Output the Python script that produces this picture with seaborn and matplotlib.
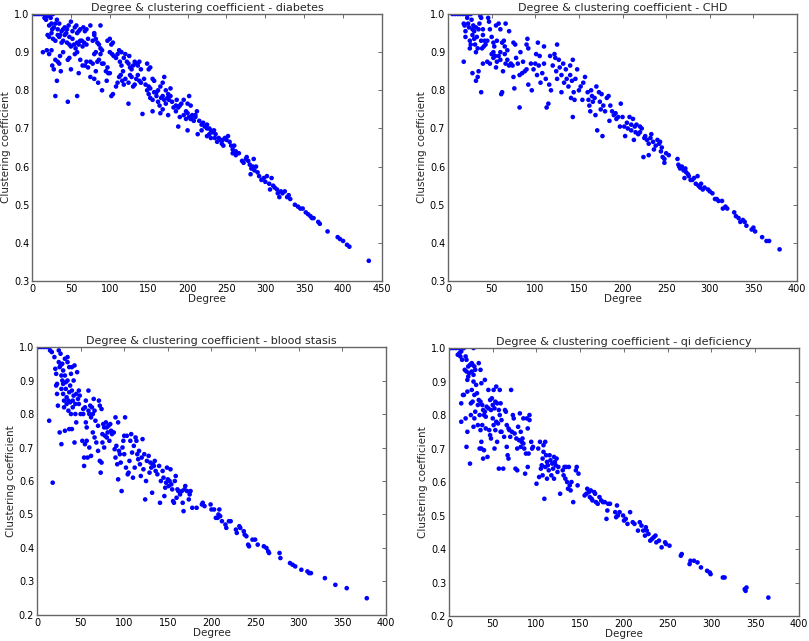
import numpy as np
import pandas as pd
import matplotlib
matplotlib.use("Agg")
import matplotlib.pyplot as plt
import seaborn as sns

# pontos (grau, coeficiente de clustering)
diabetes_pts = [
    (3, 1.0), (6, 1.0), (9, 1.0), (12, 1.0), (15, 1.0), (18, 1.0), (21, 1.0), (24, 1.0), (27, 1.0),
    (16, 0.99), (18, 0.985), (20, 0.995), (22, 0.97), (24, 0.99), (25, 0.975), (26, 0.96), (28, 0.965),
    (30, 0.975), (32, 0.985), (33, 0.96), (35, 0.975), (36, 0.945), (38, 0.955), (40, 0.96), (42, 0.965),
    (44, 0.95), (45, 0.96), (47, 0.97), (48, 0.94), (50, 0.98), (52, 0.955), (55, 0.965), (57, 0.97),
    (58, 0.95), (60, 0.955), (62, 0.96), (64, 0.93), (66, 0.965), (68, 0.955), (70, 0.96), (75, 0.97),
    (88, 0.97),
    (20, 0.945), (22, 0.94), (25, 0.95), (27, 0.935), (30, 0.93), (33, 0.945), (35, 0.94), (38, 0.925),
    (40, 0.93), (42, 0.945), (45, 0.925), (48, 0.92), (50, 0.915), (52, 0.935), (54, 0.92), (56, 0.91),
    (58, 0.925), (60, 0.92), (62, 0.93), (65, 0.915), (67, 0.925), (70, 0.92), (72, 0.935), (78, 0.93),
    (80, 0.945), (82, 0.935), (84, 0.925), (86, 0.92), (88, 0.91), (90, 0.905), (97, 0.93), (100, 0.935),
    (102, 0.92), (104, 0.925), (80, 0.95),
    (14, 0.9), (19, 0.905), (22, 0.895), (25, 0.905), (26, 0.865), (28, 0.855), (30, 0.88), (33, 0.875),
    (35, 0.87), (36, 0.89), (37, 0.85), (40, 0.9), (46, 0.88), (48, 0.885), (50, 0.855), (55, 0.895),
    (58, 0.9), (60, 0.845), (62, 0.88), (65, 0.865), (68, 0.865), (70, 0.875), (72, 0.86), (75, 0.875),
    (78, 0.87), (80, 0.895), (82, 0.9), (84, 0.875), (86, 0.88), (88, 0.895), (90, 0.87), (92, 0.87),
    (95, 0.85), (97, 0.86), (98, 0.845), (100, 0.9), (103, 0.895), (105, 0.89), (108, 0.885), (110, 0.895),
    (112, 0.905), (113, 0.875), (115, 0.865), (117, 0.85), (118, 0.885), (120, 0.895), (122, 0.875),
    (124, 0.87), (126, 0.86), (128, 0.855), (130, 0.865), (132, 0.875), (134, 0.87), (136, 0.865),
    (138, 0.875), (140, 0.855), (148, 0.87), (150, 0.855), (152, 0.86), (125, 0.89), (115, 0.9),
    (32, 0.825), (30, 0.785), (46, 0.77), (58, 0.785), (75, 0.835), (80, 0.83), (82, 0.85), (85, 0.82),
    (90, 0.8), (96, 0.825), (100, 0.845), (102, 0.785), (104, 0.79), (108, 0.81), (110, 0.82), (112, 0.835),
    (114, 0.84), (116, 0.825), (118, 0.815), (120, 0.83), (124, 0.82), (126, 0.84), (128, 0.835),
    (130, 0.81), (132, 0.815), (134, 0.83), (136, 0.84), (138, 0.825), (140, 0.82), (144, 0.83),
    (146, 0.815), (148, 0.8), (150, 0.81), (152, 0.805), (155, 0.83), (157, 0.825), (160, 0.795),
    (162, 0.8), (165, 0.81), (168, 0.82), (170, 0.835), (172, 0.8), (175, 0.79), (178, 0.805),
    (124, 0.765), (142, 0.738),
    (150, 0.79), (152, 0.78), (155, 0.775), (157, 0.795), (160, 0.785), (162, 0.77), (164, 0.76),
    (166, 0.78), (168, 0.785), (170, 0.775), (172, 0.765), (174, 0.78), (176, 0.775), (178, 0.785),
    (180, 0.77), (182, 0.755), (185, 0.76), (186, 0.775), (188, 0.755), (190, 0.76), (192, 0.765),
    (195, 0.775), (198, 0.745), (200, 0.765), (202, 0.785), (204, 0.76), (155, 0.745), (165, 0.74),
    (175, 0.735), (185, 0.745), (188, 0.705), (168, 0.75),
    (190, 0.73), (195, 0.735), (198, 0.725), (200, 0.74), (202, 0.73), (204, 0.725), (206, 0.735),
    (208, 0.72), (210, 0.73), (212, 0.745), (215, 0.72), (218, 0.71), (220, 0.715), (222, 0.705),
    (225, 0.71), (228, 0.7), (230, 0.695), (200, 0.695), (213, 0.685), (205, 0.725), (210, 0.735),
    (218, 0.695),
    (225, 0.68), (228, 0.685), (230, 0.675), (232, 0.69), (234, 0.695), (236, 0.685), (238, 0.665),
    (240, 0.675), (242, 0.67), (244, 0.66), (246, 0.655), (248, 0.675), (250, 0.67), (252, 0.68),
    (254, 0.665), (256, 0.655), (258, 0.645), (260, 0.655), (262, 0.64), (225, 0.7), (235, 0.675),
    (245, 0.67),
    (258, 0.635), (262, 0.63), (266, 0.635), (270, 0.615), (272, 0.61), (275, 0.62), (278, 0.615),
    (280, 0.605), (282, 0.595), (284, 0.6), (286, 0.59), (288, 0.6), (290, 0.585), (285, 0.62),
    (276, 0.625), (281, 0.58),
    (292, 0.575), (295, 0.565), (298, 0.57), (300, 0.56), (302, 0.575), (305, 0.555), (308, 0.57),
    (310, 0.55), (312, 0.545), (315, 0.54), (318, 0.52), (320, 0.535), (322, 0.53), (325, 0.535),
    (328, 0.52), (330, 0.525), (332, 0.515), (306, 0.54), (316, 0.53),
    (338, 0.5), (342, 0.495), (345, 0.49), (348, 0.49), (352, 0.48), (355, 0.475), (358, 0.47),
    (360, 0.465), (362, 0.465), (368, 0.455), (370, 0.45), (380, 0.43), (393, 0.415), (396, 0.41),
    (400, 0.405), (405, 0.395), (408, 0.39), (433, 0.353),
]

chd_pts = [
    (5, 1.0), (8, 1.0), (11, 1.0), (14, 1.0), (17, 1.0), (20, 1.0), (23, 1.0), (26, 1.0),
    (18, 0.975), (19, 0.97), (20, 0.955), (20, 0.94), (22, 0.99), (23, 0.975), (24, 0.965), (25, 0.93),
    (25, 0.91), (26, 0.92), (27, 0.985), (28, 0.96), (28, 0.945), (29, 0.97), (30, 0.955), (30, 0.935),
    (31, 0.92), (32, 0.965), (32, 0.9), (33, 0.94), (34, 0.91), (35, 0.96), (36, 0.975), (37, 0.995),
    (38, 0.99), (38, 0.93), (39, 0.91), (40, 0.96), (40, 0.945), (41, 0.915), (42, 0.93), (43, 0.92),
    (45, 0.93), (46, 0.99), (47, 0.98), (48, 0.96), (50, 0.94), (52, 0.925), (52, 0.9), (53, 0.915),
    (55, 0.97), (56, 0.93), (58, 0.975), (60, 0.96), (60, 0.9), (62, 0.925), (64, 0.93), (65, 0.915),
    (66, 0.975), (68, 0.905), (70, 0.955), (75, 0.925), (77, 0.92),
    (18, 0.875), (28, 0.845), (32, 0.825), (34, 0.835), (35, 0.85), (38, 0.795), (40, 0.87), (45, 0.875),
    (48, 0.87), (50, 0.895), (52, 0.885), (54, 0.89), (55, 0.86), (56, 0.875), (58, 0.89), (60, 0.88),
    (61, 0.79), (62, 0.795), (63, 0.85), (65, 0.895), (66, 0.87), (68, 0.88), (70, 0.865), (72, 0.87),
    (74, 0.865), (75, 0.835), (76, 0.805), (78, 0.885), (80, 0.87), (82, 0.755), (82, 0.84), (83, 0.9),
    (85, 0.845), (86, 0.875), (88, 0.85), (90, 0.92), (90, 0.855), (91, 0.935), (92, 0.91), (92, 0.815),
    (95, 0.87), (96, 0.8), (98, 0.855), (100, 0.87), (101, 0.895), (102, 0.84), (103, 0.925), (104, 0.865),
    (105, 0.89), (106, 0.82), (108, 0.845), (110, 0.915), (110, 0.87), (112, 0.83), (113, 0.755),
    (115, 0.765), (116, 0.815), (117, 0.89), (118, 0.8), (120, 0.865), (122, 0.895), (123, 0.885),
    (124, 0.85), (125, 0.92), (125, 0.83), (127, 0.88), (128, 0.86), (130, 0.795), (130, 0.84),
    (132, 0.87), (133, 0.82), (135, 0.855), (136, 0.83), (138, 0.81), (140, 0.865), (140, 0.84),
    (141, 0.78), (142, 0.825), (143, 0.88), (143, 0.73), (144, 0.795), (145, 0.775), (146, 0.83),
    (148, 0.855), (150, 0.8), (152, 0.81), (154, 0.775), (155, 0.82), (157, 0.835), (160, 0.795),
    (161, 0.775), (162, 0.76), (163, 0.745), (164, 0.8), (165, 0.785), (166, 0.77), (168, 0.78),
    (169, 0.735), (170, 0.81), (171, 0.695), (173, 0.795), (174, 0.77), (175, 0.75), (176, 0.79),
    (177, 0.68), (178, 0.76), (180, 0.745), (182, 0.78), (184, 0.785), (185, 0.72), (186, 0.76),
    (188, 0.745), (190, 0.735), (192, 0.74), (193, 0.725), (195, 0.73), (197, 0.705), (198, 0.765),
    (200, 0.73), (202, 0.705), (203, 0.68), (205, 0.715), (206, 0.7), (208, 0.73), (210, 0.71),
    (210, 0.695), (212, 0.725), (213, 0.67), (214, 0.705), (215, 0.69), (216, 0.71), (218, 0.685),
    (220, 0.705), (220, 0.69), (222, 0.7), (224, 0.625), (225, 0.675), (226, 0.68), (228, 0.67),
    (230, 0.66), (230, 0.63), (232, 0.675), (233, 0.685), (235, 0.665), (236, 0.645), (238, 0.655),
    (240, 0.67), (242, 0.66), (243, 0.665), (244, 0.64), (245, 0.65), (246, 0.625), (248, 0.62),
    (248, 0.61), (250, 0.635), (253, 0.63),
    (263, 0.62), (264, 0.605), (265, 0.6), (266, 0.595), (268, 0.6), (270, 0.59), (271, 0.57),
    (272, 0.595), (273, 0.585), (275, 0.58), (276, 0.575), (278, 0.565), (280, 0.565), (282, 0.57),
    (284, 0.555), (286, 0.575), (287, 0.55), (289, 0.545), (290, 0.555), (292, 0.54), (294, 0.545),
    (298, 0.54), (300, 0.535), (303, 0.53), (306, 0.515), (308, 0.515), (310, 0.51), (314, 0.51),
    (315, 0.49), (318, 0.495), (320, 0.49), (328, 0.48), (330, 0.47), (333, 0.465), (335, 0.455),
    (338, 0.46), (340, 0.455), (342, 0.445), (348, 0.435), (350, 0.44), (352, 0.43), (360, 0.415),
    (365, 0.405), (368, 0.405), (380, 0.383),
]

blood_pts = [
    (2, 1.0), (5, 1.0), (8, 1.0), (11, 1.0), (14, 1.0),
    (14, 0.78), (18, 0.595), (15, 0.99), (17, 0.985), (20, 0.97), (21, 0.935), (22, 0.92), (22, 0.885),
    (23, 0.89), (23, 0.86), (24, 0.825), (25, 0.99), (25, 0.955), (26, 0.94), (26, 0.745), (27, 0.98),
    (27, 0.945), (28, 0.71), (28, 0.915), (28, 0.875), (29, 0.95), (29, 0.9), (30, 0.93), (30, 0.89),
    (30, 0.86), (31, 0.84), (31, 0.82), (32, 0.965), (32, 0.915), (32, 0.75), (33, 0.895), (33, 0.875),
    (34, 0.85), (34, 0.83), (35, 0.97), (35, 0.955), (35, 0.9), (36, 0.84), (36, 0.81), (37, 0.94),
    (37, 0.865), (37, 0.755), (38, 0.885), (38, 0.835), (39, 0.92), (39, 0.8), (40, 0.94), (40, 0.87),
    (40, 0.755), (41, 0.84), (41, 0.82), (42, 0.9), (42, 0.855), (43, 0.945), (43, 0.715), (44, 0.83),
    (44, 0.8), (45, 0.86), (45, 0.775), (46, 0.925), (47, 0.845), (48, 0.87), (48, 0.83), (49, 0.855),
    (50, 0.8), (52, 0.72), (53, 0.815), (53, 0.8), (54, 0.67), (54, 0.645), (55, 0.82), (55, 0.71),
    (56, 0.84), (56, 0.775), (57, 0.76), (57, 0.72), (58, 0.67), (59, 0.87), (59, 0.81), (60, 0.8),
    (60, 0.7), (61, 0.825), (62, 0.79), (62, 0.675), (63, 0.82), (64, 0.8), (64, 0.745), (65, 0.845),
    (66, 0.81), (66, 0.73), (67, 0.78), (68, 0.715), (70, 0.765), (70, 0.69), (71, 0.84), (72, 0.825),
    (72, 0.66), (73, 0.625), (74, 0.655), (74, 0.815), (75, 0.74), (75, 0.715), (76, 0.77), (77, 0.76),
    (77, 0.7), (78, 0.735), (79, 0.775), (80, 0.76), (80, 0.73), (81, 0.745), (82, 0.765), (83, 0.72),
    (84, 0.77), (85, 0.75), (86, 0.74), (88, 0.745), (89, 0.695), (90, 0.79), (90, 0.67), (91, 0.705),
    (92, 0.65), (93, 0.605), (93, 0.775), (94, 0.69), (95, 0.68), (96, 0.655), (97, 0.57), (98, 0.7),
    (99, 0.72), (100, 0.735), (100, 0.68), (101, 0.79), (102, 0.64), (103, 0.735), (104, 0.62),
    (105, 0.625), (106, 0.66), (107, 0.72), (108, 0.74), (109, 0.685), (110, 0.61), (111, 0.705),
    (112, 0.64), (113, 0.73), (114, 0.72), (115, 0.68), (116, 0.665), (117, 0.69), (118, 0.65),
    (119, 0.615), (120, 0.67), (121, 0.725), (122, 0.635), (123, 0.68), (124, 0.545), (125, 0.6),
    (126, 0.66), (128, 0.675), (129, 0.625), (130, 0.655), (131, 0.64), (132, 0.565), (133, 0.65),
    (134, 0.645), (135, 0.66), (136, 0.63), (138, 0.62), (140, 0.645), (141, 0.535), (142, 0.6),
    (144, 0.63), (145, 0.61), (146, 0.555), (147, 0.58), (148, 0.595), (149, 0.64), (150, 0.605),
    (151, 0.585), (152, 0.6), (153, 0.635), (154, 0.59), (155, 0.575), (156, 0.54), (157, 0.535),
    (158, 0.6), (159, 0.615), (160, 0.55), (161, 0.575), (162, 0.57), (164, 0.56), (166, 0.57),
    (167, 0.535), (168, 0.51), (169, 0.575), (170, 0.585), (172, 0.57), (174, 0.545), (175, 0.56),
    (176, 0.57), (178, 0.52), (183, 0.52), (189, 0.53), (190, 0.535), (192, 0.525), (199, 0.53),
    (200, 0.515), (203, 0.515), (205, 0.49), (207, 0.49), (208, 0.5), (209, 0.515), (210, 0.495),
    (212, 0.48), (216, 0.47), (217, 0.46), (220, 0.48), (222, 0.48), (228, 0.455), (229, 0.445),
    (232, 0.465), (233, 0.46), (237, 0.45), (238, 0.44), (240, 0.435), (242, 0.41), (243, 0.405),
    (247, 0.425), (250, 0.425), (253, 0.41), (260, 0.405), (263, 0.4), (265, 0.39), (266, 0.385),
    (278, 0.385), (279, 0.37), (290, 0.355), (293, 0.35), (296, 0.345), (303, 0.335), (310, 0.33),
    (312, 0.325), (314, 0.325), (330, 0.31), (342, 0.29), (355, 0.28), (378, 0.25),
]

qi_pts = [
    (2, 1.0), (5, 1.0), (8, 1.0), (11, 1.0), (14, 1.0), (17, 1.0), (28, 1.0),
    (10, 0.98), (12, 0.985), (13, 0.975), (14, 0.99), (15, 0.965), (14, 0.835), (14, 0.78), (16, 0.86),
    (17, 0.86), (18, 0.935), (19, 0.975), (19, 0.79), (20, 0.965), (20, 0.93), (20, 0.705), (21, 0.905),
    (21, 0.87), (21, 0.75), (22, 0.945), (22, 0.915), (23, 0.925), (24, 0.95), (24, 0.655), (25, 0.835),
    (25, 0.8), (26, 0.955), (26, 0.93), (26, 0.875), (27, 0.95), (27, 0.84), (28, 0.92), (28, 0.9),
    (28, 0.765), (29, 0.945), (29, 0.86), (29, 0.79), (30, 0.935), (30, 0.81), (31, 0.89), (32, 0.865),
    (33, 0.83), (33, 0.77), (34, 0.955), (34, 0.845), (35, 0.8), (35, 0.7), (36, 0.935), (36, 0.84),
    (36, 0.755), (37, 0.895), (37, 0.72), (37, 0.7), (38, 0.83), (38, 0.77), (39, 0.67), (39, 0.815),
    (40, 0.8), (40, 0.695), (41, 0.905), (41, 0.81), (42, 0.795), (42, 0.76), (43, 0.825), (44, 0.675),
    (45, 0.875), (45, 0.82), (46, 0.755), (47, 0.845), (47, 0.74), (48, 0.815), (48, 0.73), (49, 0.85),
    (50, 0.83), (50, 0.79), (51, 0.875), (51, 0.77), (52, 0.7), (52, 0.82), (53, 0.84), (53, 0.755),
    (54, 0.885), (54, 0.78), (55, 0.835), (55, 0.72), (56, 0.775), (57, 0.64), (57, 0.815), (58, 0.875),
    (58, 0.8), (59, 0.75), (59, 0.835), (60, 0.785), (60, 0.75), (62, 0.64), (63, 0.735), (64, 0.815),
    (65, 0.81), (66, 0.77), (66, 0.705), (67, 0.68), (68, 0.67), (68, 0.76), (69, 0.755), (70, 0.735),
    (71, 0.875), (72, 0.75), (73, 0.8), (74, 0.79), (75, 0.745), (76, 0.64), (77, 0.73), (78, 0.7),
    (78, 0.635), (79, 0.765), (80, 0.725), (81, 0.805), (82, 0.75), (82, 0.705), (83, 0.72), (84, 0.73),
    (85, 0.79), (85, 0.715), (86, 0.7), (87, 0.625), (88, 0.685), (89, 0.79), (90, 0.76), (90, 0.645),
    (91, 0.685), (92, 0.8), (92, 0.785), (94, 0.72), (95, 0.7), (96, 0.705), (100, 0.595), (102, 0.7),
    (103, 0.615), (104, 0.72), (105, 0.64), (106, 0.65), (107, 0.67), (107, 0.62), (108, 0.71),
    (108, 0.69), (109, 0.55), (110, 0.645), (110, 0.72), (111, 0.68), (112, 0.66), (112, 0.61),
    (113, 0.65), (114, 0.635), (115, 0.68), (116, 0.665), (117, 0.62), (118, 0.655), (119, 0.64),
    (120, 0.61), (120, 0.675), (121, 0.66), (122, 0.65), (123, 0.67), (124, 0.63), (125, 0.645),
    (127, 0.565), (130, 0.635), (131, 0.62), (132, 0.645), (133, 0.61), (134, 0.645), (135, 0.6),
    (136, 0.58), (137, 0.645), (138, 0.59), (139, 0.575), (140, 0.6), (142, 0.54), (145, 0.635),
    (146, 0.645), (147, 0.59), (148, 0.625), (155, 0.56), (157, 0.565), (158, 0.58), (160, 0.57),
    (161, 0.555), (162, 0.575), (163, 0.55), (164, 0.545), (166, 0.57), (167, 0.565), (168, 0.54),
    (170, 0.535), (172, 0.555), (174, 0.545), (176, 0.54), (178, 0.54), (180, 0.49), (181, 0.515),
    (182, 0.535), (184, 0.535), (190, 0.51), (191, 0.495), (192, 0.53), (193, 0.5), (195, 0.51),
    (199, 0.5), (200, 0.485), (202, 0.49), (204, 0.475), (207, 0.51), (210, 0.48), (212, 0.475),
    (216, 0.455), (218, 0.48), (220, 0.47), (222, 0.455), (224, 0.44), (225, 0.465), (226, 0.455),
    (228, 0.445), (230, 0.425), (232, 0.43), (234, 0.435), (236, 0.44), (237, 0.42), (240, 0.425),
    (243, 0.405), (247, 0.42), (248, 0.415), (252, 0.41), (265, 0.38), (266, 0.385), (275, 0.355),
    (276, 0.365), (280, 0.365), (284, 0.36), (288, 0.345), (295, 0.335), (298, 0.33), (299, 0.325),
    (313, 0.315), (315, 0.315), (338, 0.28), (339, 0.275), (340, 0.285), (365, 0.255),
]

titulos = ["diabetes", "CHD", "blood stasis", "qi deficiency"]
limites_x = [450, 400, 400, 400]
limites_y = [0.3, 0.3, 0.2, 0.2]
posicoes = [
    [0.0396, 0.5616, 0.4326, 0.4165],
    [0.5538, 0.5616, 0.4314, 0.4165],
    [0.0457, 0.0406, 0.4314, 0.4180],
    [0.5550, 0.0390, 0.4326, 0.4180],
]

sns.set_style("white")
plt.rcParams["font.family"] = ["DejaVu Sans"]
plt.rcParams["xtick.direction"] = "in"
plt.rcParams["ytick.direction"] = "in"

fig = plt.figure(figsize=(8.09, 6.41), dpi=100)

for pts, titulo, xmax, ymin, pos in zip(
        [diabetes_pts, chd_pts, blood_pts, qi_pts], titulos, limites_x, limites_y, posicoes):
    df = pd.DataFrame(pts, columns=["Degree", "cc"])
    ax = fig.add_axes(pos)
    sns.scatterplot(data=df, x="Degree", y="cc", ax=ax, color="blue",
                    s=11, linewidth=0, edgecolor="none")
    ax.set_xlim(0, xmax)
    ax.set_ylim(ymin, 1.0)
    ax.set_xticks(np.arange(0, xmax + 1, 50))
    ax.set_yticks(np.round(np.arange(ymin, 1.001, 0.1), 1))
    ax.tick_params(axis="both", labelsize=7, length=3, width=0.6, colors="#555555",
                   labelcolor="black", top=True, right=True, pad=2)
    for sp in ax.spines.values():
        sp.set_color("#666666")
        sp.set_linewidth(1.0)
    ax.set_xlabel("Degree", fontsize=7.5, labelpad=0)
    ax.set_ylabel("Clustering coefficient", fontsize=7.5, labelpad=2)
    ax.set_title("Degree & clustering coefficient - " + titulo, fontsize=8, pad=2)

fig.savefig("out.png", dpi=100)
